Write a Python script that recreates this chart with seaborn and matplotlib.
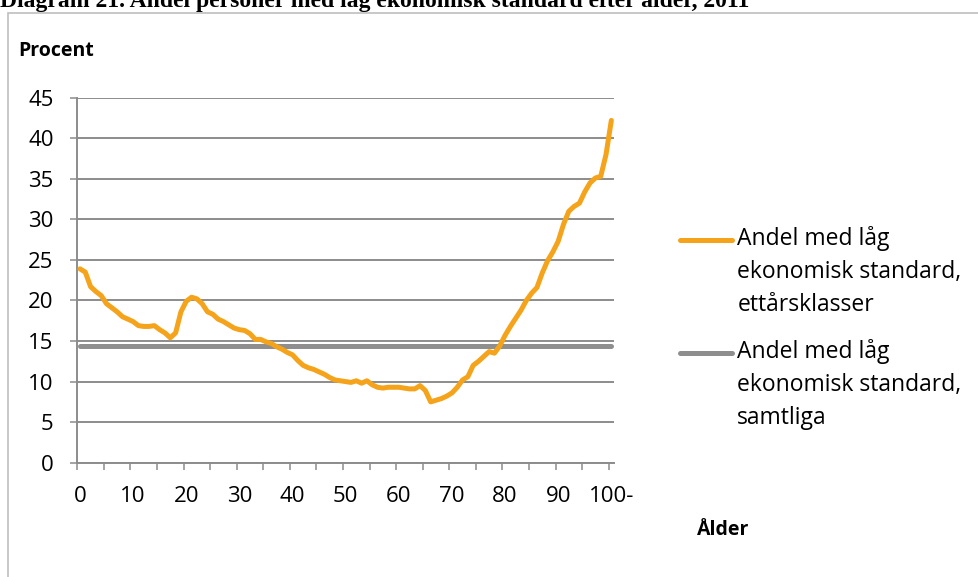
import numpy as np
import pandas as pd
import seaborn as sns
import matplotlib.pyplot as plt
from matplotlib.lines import Line2D
from matplotlib.patches import Rectangle
from matplotlib.legend_handler import HandlerLine2D

# andel med låg ekonomisk standard per ettårsklass (ålder 0..100-)
alder = list(range(0, 101))
andel = [23.9, 23.5, 21.7, 21.1, 20.6, 19.6, 19.1, 18.6, 18.0, 17.7,
         17.4, 16.9, 16.8, 16.8, 16.9, 16.4, 16.0, 15.4, 16.0, 18.6,
         19.9, 20.4, 20.2, 19.6, 18.6, 18.3, 17.7, 17.4, 17.0, 16.6,
         16.4, 16.3, 15.9, 15.2, 15.2, 14.9, 14.7, 14.3, 14.0, 13.6,
         13.3, 12.6, 12.0, 11.7, 11.5, 11.2, 10.9, 10.5, 10.2, 10.1,
         10.0, 9.9, 10.1, 9.8, 10.1, 9.6, 9.3, 9.2, 9.3, 9.3,
         9.3, 9.2, 9.1, 9.1, 9.5, 8.9, 7.5, 7.7, 7.9, 8.2,
         8.6, 9.3, 10.2, 10.6, 12.0, 12.5, 13.1, 13.7, 13.5, 14.4,
         15.7, 16.8, 17.8, 18.8, 20.0, 20.9, 21.6, 23.4, 24.9, 26.0,
         27.3, 29.4, 31.0, 31.6, 32.0, 33.4, 34.5, 35.1, 35.3, 38.0,
         42.2]
samtliga = 14.4
xticks = list(range(0, 101, 10))
xlabels = [str(v) for v in xticks[:-1]] + ["100-"]
yticks = list(range(0, 46, 5))

lbl_ett = "Andel med låg\nekonomisk standard,\nettårsklasser"
lbl_alla = "Andel med låg\nekonomisk standard,\nsamtliga"

sns.set_theme(style="white")
plt.rcParams['font.family'] = ['Open Sans', 'DejaVu Sans']
plt.rcParams['text.color'] = 'black'

df = pd.DataFrame({"alder": alder, "andel": andel, "samtliga": [samtliga] * len(alder)})

W, H = 979, 577
fig = plt.figure(figsize=(W / 100, H / 100), dpi=100)
ax = fig.add_axes([77.3 / W, 1 - 462.7 / H, (614 - 77.3) / W, 365 / H])

orange = "#F5A31A"
grey = "#8E8E8E"
sns.lineplot(data=df, x="alder", y="samtliga", ax=ax, color=grey, lw=3.6,
             solid_capstyle="round", legend=False, zorder=3)
sns.lineplot(data=df, x="alder", y="andel", ax=ax, color=orange, lw=3.6,
             solid_capstyle="round", solid_joinstyle="round", legend=False, zorder=4)

ax.set_xlim(-0.5, 100.5)
ax.set_ylim(0, 45)
ax.set_yticks(yticks)
ax.set_yticklabels([str(v) for v in yticks])
ax.set_xticks(xticks)
ax.set_xticklabels(xlabels)
ax.set_xticks(np.arange(-0.5, 101, 5), minor=True)
ax.grid(axis="y", color="#8C8C8C", lw=1.4)
ax.set_axisbelow(True)
for s in ["top", "right"]:
    ax.spines[s].set_visible(False)
for s in ["left", "bottom"]:
    ax.spines[s].set_color("#8C8C8C")
    ax.spines[s].set_linewidth(1.4)
ax.tick_params(axis="y", which="major", length=5, width=1.1, color="#8C8C8C",
               direction="out", left=True, pad=12, labelsize=16, labelcolor="black")
ax.tick_params(axis="x", which="major", length=0, pad=17, labelsize=16, labelcolor="black")
ax.tick_params(axis="x", which="minor", length=5, width=1.1, color="#8C8C8C",
               direction="out", bottom=True)
ax.set_xlabel("")
ax.set_ylabel("")

LS = 1.5      # legend line spacing
FS = 16.5


class FirstLineHandler(HandlerLine2D):
    # put the key next to the first text line, like Excel does
    def create_artists(self, legend, orig_handle, xdescent, ydescent, width, height, fontsize, trans):
        arts = super().create_artists(legend, orig_handle, xdescent, ydescent, width, height, fontsize, trans)
        for a in arts:
            a.set_ydata(np.asarray(a.get_ydata()) + 0.93 * LS * fontsize)
        return arts


h = [Line2D([], [], color=orange, lw=3.6, solid_capstyle="round"),
     Line2D([], [], color=grey, lw=3.6, solid_capstyle="round")]
leg = fig.legend(h, [lbl_ett, lbl_alla], loc="upper left",
                 bbox_to_anchor=(659 / W, 1 - 205 / H), frameon=False,
                 fontsize=FS, handlelength=2.3, handletextpad=0.22, labelspacing=0.96,
                 handler_map={Line2D: FirstLineHandler()})
for t in leg.get_texts():
    t.set_linespacing(LS)

fig.text(18 / W, 1 - 51 / H, "Procent", fontsize=14, fontweight="bold", va="center")
fig.text(697 / W, 1 - 530 / H, "Ålder", fontsize=14, fontweight="bold", va="center")
fig.text(0, 1 - 7 / H, "Diagram 21. Andel personer med låg ekonomisk standard efter ålder, 2011",
         fontsize=17, fontweight="bold", family="Liberation Serif", va="baseline")

fig.patches.append(Rectangle((8 / W, -0.1), 1.2, 1 - 13 / H + 0.1, transform=fig.transFigure,
                             fill=False, edgecolor="#BFBFBF", lw=1.2))

fig.savefig("out.png", dpi=100)
